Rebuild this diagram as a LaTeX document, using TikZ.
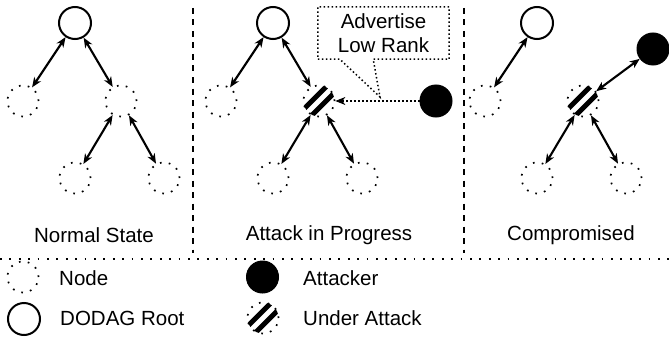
\documentclass[tikz,border=0pt]{standalone}
\usepackage{fontspec}
\setmainfont{Liberation Sans}
\usetikzlibrary{arrows.meta,calc}
\begin{document}
\begin{tikzpicture}[x=1pt,y=-1pt,
  nd/.style={circle,minimum size=31pt,inner sep=0pt,draw,line width=1.7pt,dash pattern=on 1.7pt off 7.2pt},
  rootnd/.style={circle,minimum size=32pt,inner sep=0pt,draw,line width=2pt},
  atknd/.style={circle,minimum size=32pt,inner sep=0pt,draw,fill=black,line width=1pt},
  undernd/.style={nd,path picture={
     \draw[solid,line width=5pt] ($(path picture bounding box.center)+(-3.6,-3.6)+(-22,22)$) -- ($(path picture bounding box.center)+(-3.6,-3.6)+(22,-22)$);
     \draw[solid,line width=5pt] ($(path picture bounding box.center)+(3.6,3.6)+(-22,22)$) -- ($(path picture bounding box.center)+(3.6,3.6)+(22,-22)$);
  }},
  link/.style={line width=2.1pt,{Stealth[length=10pt,width=8pt,inset=3pt]}-{Stealth[length=10pt,width=8pt,inset=3pt]}},
  fine/.style={line width=1.5pt,dash pattern=on 1.5pt off 2.5pt},
  lab/.style={font=\fontsize{20.5}{24}\selectfont,inner sep=0pt},
  sep/.style={line width=2.3pt,dash pattern=on 6pt off 5.5pt},
  hsep/.style={line width=1.7pt,dash pattern=on 1.7pt off 7.7pt}
]
\useasboundingbox (0,0) rectangle (669,337);

% Panel 1
\node[rootnd] (r1) at (75,23) {};
\node[nd] (n1a) at (23,101) {};
\node[nd] (n1b) at (121,101) {};
\node[nd] (n1c) at (75,178) {};
\node[nd] (n1d) at (164,178) {};
\draw[link] (r1) -- (n1a);
\draw[link] (r1) -- (n1b);
\draw[link] (n1b) -- (n1c);
\draw[link] (n1b) -- (n1d);

% Panel 2
\node[rootnd] (r2) at (273,23) {};
\node[nd] (n2a) at (221,101) {};
\node[undernd] (u2) at (319,101) {};
\node[nd] (n2c) at (273,178) {};
\node[nd] (n2d) at (362,178) {};
\node[atknd] (a2) at (436,101) {};
\draw[link] (r2) -- (n2a);
\draw[link] (r2) -- (u2);
\draw[link] (u2) -- (n2c);
\draw[link] (u2) -- (n2d);
\draw[fine,-{Stealth[length=10pt,width=8pt,inset=3pt,line width=1pt]}] (a2.west) -- (u2.east);

% callout
\node[lab,align=center,minimum width=131pt,minimum height=52pt] (co) at (383.5,33) {Advertise\\Low Rank};
\coordinate (tip) at (380,97);
\draw[fine] (co.south west) -- ([xshift=22pt]co.south west) -- (tip) -- ([xshift=-76pt]co.south east) -- (co.south east) -- (co.north east) -- (co.north west) -- cycle;

% Panel 3
\node[rootnd] (r3) at (537,23) {};
\node[nd] (n3a) at (485,101) {};
\node[undernd] (u3) at (583,101) {};
\node[nd] (n3c) at (537,178) {};
\node[nd] (n3d) at (626,178) {};
\node[atknd] (a3) at (653,49) {};
\draw[link] (r3) -- (n3a);
\draw[link] (a3) -- (u3);
\draw[link] (u3) -- (n3c);
\draw[link] (u3) -- (n3d);

% separators
\draw[sep] (193,8) -- (193,253);
\draw[sep] (464,8) -- (464,253);
\draw[hsep] (0,259) -- (669,259);

% panel labels
\node[lab] (l1) at (94,235) {Normal State};
\node[lab] (l2) at (329,235) {Attack in Progress};
\node[lab] (l3) at (571,235) {Compromised};

% legend
\node[nd] (kn) at (23,277) {};
\node[lab,anchor=west] (kt1) at (59,278) {Node};
\node[rootnd] (kr) at (24,319) {};
\node[lab,anchor=west] (kt2) at (60,318) {DODAG Root};
\node[atknd] (ka) at (262.5,277) {};
\node[lab,anchor=west] (kt3) at (303,278) {Attacker};
\node[undernd] (ku) at (263,318) {};
\node[lab,anchor=west] (kt4) at (303,318) {Under Attack};
\end{tikzpicture}
\end{document}
